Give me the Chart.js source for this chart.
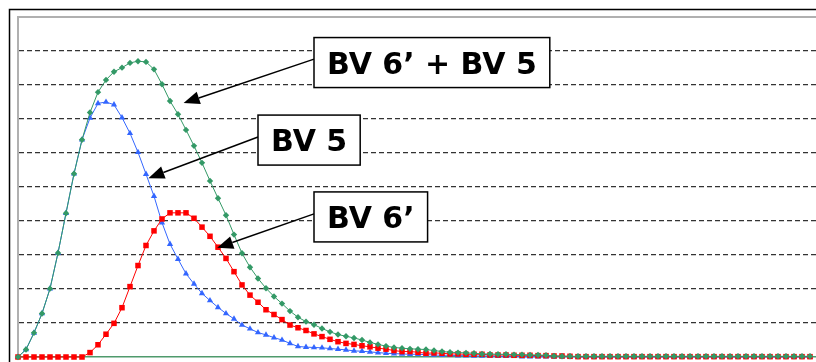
<!DOCTYPE html>
<html>
<head>
<meta charset="utf-8">
<script src="https://cdn.jsdelivr.net/npm/chart.js@4.4.1/dist/chart.umd.min.js"></script>
<style>
  html, body { margin: 0; padding: 0; background: #fff; overflow: hidden; }
  #wrap { width: 830px; height: 372px; }
  canvas { display: block; }
</style>
</head>
<body>
<div id="wrap"><canvas id="chart" width="830" height="372"></canvas></div>
<script>
// Series values, one per step
const sumValues = [
  0, 0.22, 0.71, 1.28, 2.01, 3.06, 4.23, 5.39, 6.39, 7.19,
  7.79, 8.15, 8.39, 8.51, 8.65, 8.70, 8.68, 8.46, 8.02, 7.53,
  7.14, 6.68, 6.21, 5.71, 5.18, 4.67, 4.17, 3.60, 3.05, 2.64,
  2.31, 2.02, 1.78, 1.57, 1.35, 1.17, 1.04, 0.95, 0.84, 0.74,
  0.66, 0.61, 0.56, 0.50, 0.43, 0.37, 0.32, 0.28, 0.26, 0.24,
  0.23, 0.22, 0.19, 0.16, 0.14, 0.13, 0.12, 0.11, 0.09, 0.09,
  0.08, 0.08, 0.07, 0.07, 0.06, 0.06, 0.05, 0.03, 0.02, 0.02,
  0.02, 0.02, 0.02, 0.02, 0.02, 0.02, 0.02, 0.02, 0.02, 0.02,
  0.02, 0.02, 0.02, 0.02, 0.02, 0.02, 0.02, 0.02, 0.02, 0.02,
  0.02, 0.02, 0.02, 0.02, 0.02, 0.02, 0.02, 0.02, 0.02, 0.02
];
const bv6Values = [
  0, 0, 0, 0, 0, 0, 0, 0, 0, 0.13,
  0.36, 0.67, 0.99, 1.45, 2.07, 2.69, 3.28, 3.71, 4.06, 4.24,
  4.24, 4.24, 4.08, 3.82, 3.55, 3.23, 2.90, 2.51, 2.12, 1.82,
  1.61, 1.39, 1.25, 1.10, 0.94, 0.86, 0.78, 0.68, 0.60, 0.52,
  0.45, 0.40, 0.37, 0.33, 0.30, 0.26, 0.23, 0.19, 0.16, 0.16,
  0.14, 0.11, 0.12, 0.11, 0.09, 0.09, 0.08, 0.08, 0.08, 0.06,
  0.06, 0.06, 0.05, 0.05, 0.05, 0.04, 0.04, 0.03, 0.03, 0.02,
  0.01, 0.01, 0.01, 0.01, 0.01, 0.01, 0.01, 0.01, 0.01, 0.01,
  0.01, 0.01, 0.01, 0.01, 0.01, 0.01, 0.01, 0.01, 0.01, 0.01,
  0.01, 0.01, 0.01, 0.01, 0.01, 0.01, 0.01, 0.01, 0.01, 0.01
];
const bv5Values = [
  0, 0.22, 0.71, 1.28, 2.01, 3.06, 4.23, 5.39, 6.39, 7.03,
  7.46, 7.50, 7.42, 7.04, 6.58, 6.02, 5.38, 4.73, 3.95, 3.32,
  2.88, 2.45, 2.15, 1.87, 1.66, 1.46, 1.28, 1.12, 0.94, 0.83,
  0.72, 0.65, 0.57, 0.50, 0.40, 0.31, 0.29, 0.28, 0.27, 0.25,
  0.23, 0.21, 0.18, 0.17, 0.15, 0.13, 0.11, 0.10, 0.09, 0.08,
  0.08, 0.07, 0.06, 0.05, 0.05, 0.04, 0.04, 0.03, 0.03, 0.03,
  0.02, 0.02, 0.02, 0.01, 0.01, 0.01, 0.01, 0.01, 0.01, 0.01,
  0, 0, 0, 0, 0, 0, 0, 0, 0, 0,
  0, 0, 0, 0, 0, 0, 0, 0, 0, 0,
  0, 0, 0, 0, 0, 0, 0, 0, 0, 0
];
// x steps (one more than visible, the last one falls off the right edge)
const categories = Array.from({ length: 101 }, (_, i) => i);
const yMin = 0;
const yMax = 10;

// Callout boxes, placed in data units (x = step, y = value)
const callouts = [
  { text: "BV 6\u2019 + BV 5", boxX: 37.0, boxY: 8.66, fromY: 8.76, tipX: 20.7, tipY: 7.47 },
  { text: "BV 5",              boxX: 30.0, boxY: 6.38, fromY: 6.47, tipX: 16.3, tipY: 5.26 },
  { text: "BV 6\u2019",        boxX: 37.0, boxY: 4.12, fromY: 4.21, tipX: 24.9, tipY: 3.21 }
];

// Frame + callouts drawn on the canvas
const framePlugin = {
  id: "frame",
  beforeDraw(chart) {
    const { ctx, chartArea } = chart;
    ctx.save();
    ctx.strokeStyle = "#000";
    ctx.lineWidth = 1.5;
    ctx.strokeRect(9.5, 9.5, 1000, 1000);
    ctx.restore();
  },
  beforeDatasetsDraw(chart) {
    const { ctx, chartArea } = chart;
    ctx.save();
    ctx.strokeStyle = "#b0b0b0";
    ctx.lineWidth = 2;
    ctx.beginPath();
    ctx.moveTo(chartArea.left, chartArea.top);
    ctx.lineTo(chartArea.right + 20, chartArea.top);
    ctx.stroke();
    ctx.restore();
  },
  afterDraw(chart) {
    const { ctx } = chart;
    const xs = chart.scales.x, ys = chart.scales.y;
    ctx.save();
    ctx.font = "bold 30px 'DejaVu Sans'";
    callouts.forEach(c => {
      const left = xs.getPixelForValue(c.boxX);
      const cy = ys.getPixelForValue(c.boxY);
      const w = ctx.measureText(c.text).width + 26;
      const h = 50;
      const sx = left, sy = ys.getPixelForValue(c.fromY);
      const tx = xs.getPixelForValue(c.tipX), ty = ys.getPixelForValue(c.tipY);
      // arrow
      const ang = Math.atan2(ty - sy, tx - sx);
      const headLen = 16, headW = 6.5;
      const bx = tx - Math.cos(ang) * headLen, by = ty - Math.sin(ang) * headLen;
      ctx.strokeStyle = "#000";
      ctx.lineWidth = 1.5;
      ctx.beginPath();
      ctx.moveTo(sx, sy);
      ctx.lineTo(bx, by);
      ctx.stroke();
      ctx.fillStyle = "#000";
      ctx.beginPath();
      ctx.moveTo(tx, ty);
      ctx.lineTo(bx + Math.sin(ang) * headW, by - Math.cos(ang) * headW);
      ctx.lineTo(bx - Math.sin(ang) * headW, by + Math.cos(ang) * headW);
      ctx.closePath();
      ctx.fill();
      // box
      ctx.fillStyle = "#fff";
      ctx.fillRect(left, cy - h / 2, w, h);
      ctx.lineWidth = 1.5;
      ctx.strokeRect(left, cy - h / 2, w, h);
      ctx.fillStyle = "#000";
      ctx.textBaseline = "alphabetic";
      ctx.fillText(c.text, left + 13, cy + 11);
    });
    ctx.restore();
  }
};

new Chart(document.getElementById("chart"), {
  type: "line",
  data: {
    labels: categories,
    datasets: [
      {
        label: "BV 6\u2019 + BV 5",
        data: sumValues,
        borderColor: "#339966",
        backgroundColor: "#339966",
        borderWidth: 1,
        pointStyle: "rectRot",
        pointRadius: 3.2,
        pointBorderWidth: 0,
        clip: false
      },
      {
        label: "BV 6\u2019",
        data: bv6Values,
        borderColor: "#ff0000",
        backgroundColor: "#ff0000",
        borderWidth: 1,
        pointStyle: "rect",
        pointRadius: 3.9,
        pointBorderWidth: 0,
        clip: false
      },
      {
        label: "BV 5",
        data: bv5Values,
        borderColor: "#3366ff",
        backgroundColor: "#3366ff",
        borderWidth: 1,
        pointStyle: "triangle",
        pointRadius: 3.6,
        pointBorderWidth: 0,
        clip: false
      }
    ]
  },
  options: {
    responsive: false,
    animation: false,
    events: [],
    layout: { padding: { left: 18, top: 17, right: 12, bottom: 15 } },
    plugins: { legend: { display: false }, tooltip: { enabled: false } },
    scales: {
      x: {
        offset: false,
        ticks: { display: false },
        grid: { display: false, drawTicks: false },
        border: { display: true, color: "#4f9a6c", width: 1.5 }
      },
      y: {
        min: yMin,
        max: yMax,
        ticks: { display: false, stepSize: 1 },
        grid: {
          drawTicks: false,
          lineWidth: 1.2,
          color: ctx => (ctx.tick && (ctx.tick.value === yMin || ctx.tick.value === yMax)) ? "rgba(0,0,0,0)" : "#333"
        },
        border: { display: true, color: "#b0b0b0", width: 2, dash: [5, 3] }
      }
    }
  },
  plugins: [framePlugin]
});
</script>
</body>
</html>
